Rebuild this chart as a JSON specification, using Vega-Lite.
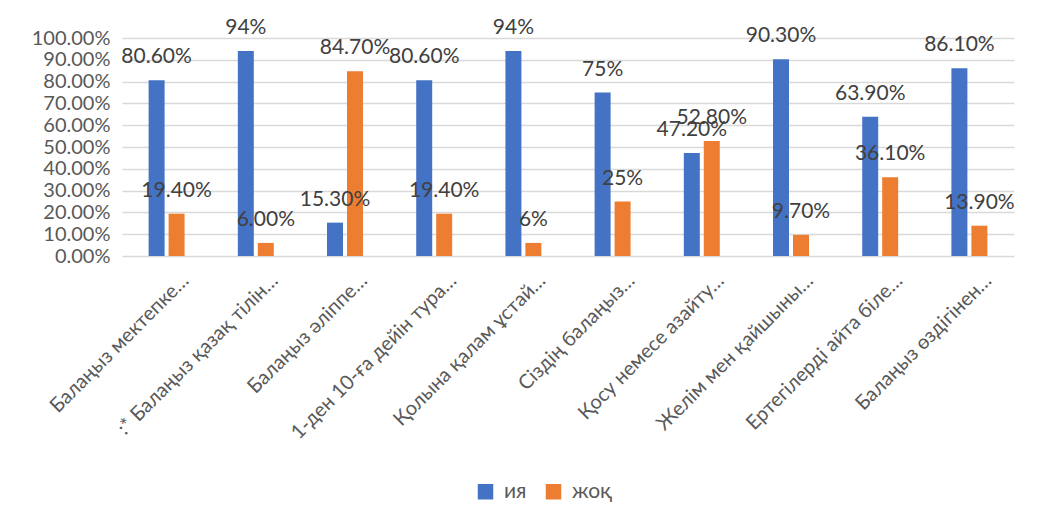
{
  "$schema": "https://vega.github.io/schema/vega-lite/v6.json",
  "width": 892,
  "height": 218,
  "autosize": {"type": "none"},
  "padding": {"left": 122, "top": 38, "right": 26, "bottom": 265},
  "background": "white",
  "config": {
    "font": "Lato",
    "view": {"stroke": null},
    "axis": {"labelColor": "#595959", "labelFont": "Lato", "domainColor": "#D9D9D9", "gridColor": "#D9D9D9", "tickColor": "#D9D9D9"}
  },
  "data": {
    "values": [
      {"category": "Балаңыз мектепке…", "series": "ия", "value": 0.806, "label": "80.60%"},
      {"category": "Балаңыз мектепке…", "series": "жоқ", "value": 0.194, "label": "19.40%"},
      {"category": ":* Балаңыз қазақ тілін…", "series": "ия", "value": 0.94, "label": "94%"},
      {"category": ":* Балаңыз қазақ тілін…", "series": "жоқ", "value": 0.06, "label": "6.00%"},
      {"category": "Балаңыз әліппе…", "series": "ия", "value": 0.153, "label": "15.30%"},
      {"category": "Балаңыз әліппе…", "series": "жоқ", "value": 0.847, "label": "84.70%"},
      {"category": "1-ден 10-ға дейін тура…", "series": "ия", "value": 0.806, "label": "80.60%"},
      {"category": "1-ден 10-ға дейін тура…", "series": "жоқ", "value": 0.194, "label": "19.40%"},
      {"category": "Қолына қалам ұстай…", "series": "ия", "value": 0.94, "label": "94%"},
      {"category": "Қолына қалам ұстай…", "series": "жоқ", "value": 0.06, "label": "6%"},
      {"category": "Сіздің балаңыз…", "series": "ия", "value": 0.75, "label": "75%"},
      {"category": "Сіздің балаңыз…", "series": "жоқ", "value": 0.25, "label": "25%"},
      {"category": "Қосу немесе азайту…", "series": "ия", "value": 0.472, "label": "47.20%"},
      {"category": "Қосу немесе азайту…", "series": "жоқ", "value": 0.528, "label": "52.80%"},
      {"category": "Желім мен қайшыны…", "series": "ия", "value": 0.903, "label": "90.30%"},
      {"category": "Желім мен қайшыны…", "series": "жоқ", "value": 0.097, "label": "9.70%"},
      {"category": "Ертегілерді айта біле…", "series": "ия", "value": 0.639, "label": "63.90%"},
      {"category": "Ертегілерді айта біле…", "series": "жоқ", "value": 0.361, "label": "36.10%"},
      {"category": "Балаңыз өздігінен…", "series": "ия", "value": 0.861, "label": "86.10%"},
      {"category": "Балаңыз өздігінен…", "series": "жоқ", "value": 0.139, "label": "13.90%"}
    ]
  },
  "encoding": {
    "x": {
      "field": "category", "type": "nominal", "sort": null,
      "scale": {"paddingInner": 0.552, "paddingOuter": 0.276},
      "axis": {"title": null, "labelAngle": -45, "labelFontSize": 20, "ticks": false, "domain": false, "labelPadding": 14, "labelOffset": 12, "labelLimit": 400}
    },
    "xOffset": {"field": "series", "type": "nominal", "sort": ["ия", "жоқ"], "scale": {"paddingInner": 0.2, "paddingOuter": 0.1}},
    "y": {
      "field": "value", "type": "quantitative",
      "scale": {"domain": [0, 1]},
      "axis": {"title": null, "format": ".2%", "values": [0, 0.1, 0.2, 0.3, 0.4, 0.5, 0.6, 0.7, 0.8, 0.9, 1.0], "labelFontSize": 20, "ticks": false, "domain": false, "gridWidth": 1.5, "labelPadding": 12}
    }
  },
  "layer": [
    {
      "mark": {"type": "bar"},
      "encoding": {
        "color": {
          "field": "series", "type": "nominal", "sort": ["ия", "жоқ"],
          "scale": {"domain": ["ия", "жоқ"], "range": ["#4472C4", "#ED7D31"]},
          "legend": {"title": null, "orient": "none", "legendX": 353, "legendY": 443, "direction": "horizontal", "symbolType": "square", "symbolSize": 240, "symbolStrokeWidth": 0, "labelFontSize": 21, "labelColor": "#595959", "columnPadding": 16, "labelOffset": 8}
        }
      }
    },
    {
      "mark": {"type": "text", "fontSize": 21, "color": "#404040", "dy": -17, "baseline": "alphabetic"},
      "encoding": {"text": {"field": "label"}}
    }
  ]
}
